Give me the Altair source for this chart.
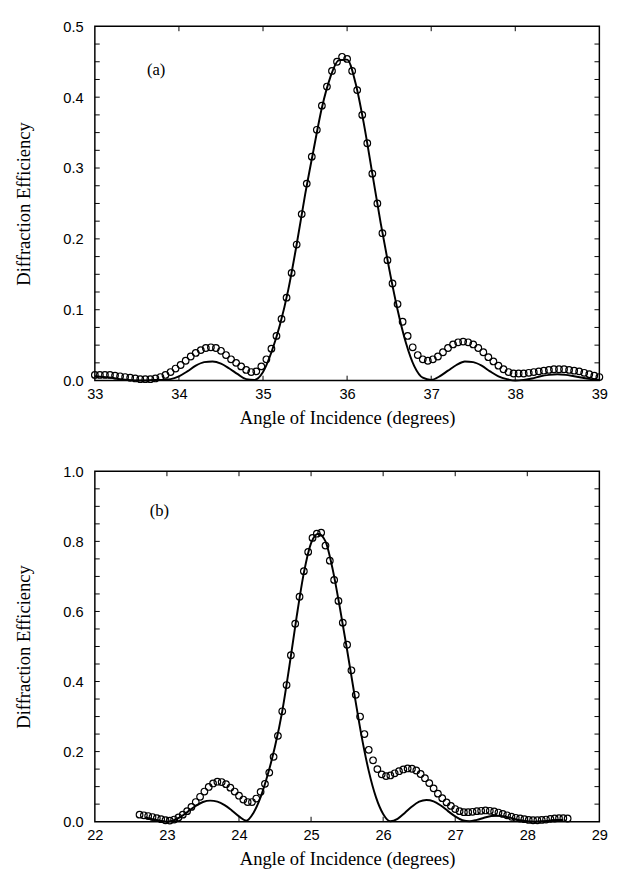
import altair as alt
import pandas as pd

TFONT = "Liberation Serif"
LFONT = "Liberation Sans"

# ---------------- panel (a) ----------------
a_pts_x = [33.00, 33.06, 33.12, 33.18, 33.24, 33.30, 33.36, 33.42, 33.48, 33.54,
           33.60, 33.66, 33.72, 33.78, 33.84, 33.90, 33.96, 34.02, 34.08, 34.14,
           34.20, 34.26, 34.32, 34.38, 34.44, 34.50, 34.56, 34.62, 34.68, 34.74,
           34.80, 34.86, 34.92, 34.98, 35.04, 35.10, 35.16, 35.22, 35.28, 35.34,
           35.40, 35.46, 35.52, 35.58, 35.64, 35.70, 35.76, 35.82, 35.88, 35.94,
           36.00, 36.06, 36.12, 36.18, 36.24, 36.30, 36.36, 36.42, 36.48, 36.54,
           36.60, 36.66, 36.72, 36.78, 36.84, 36.90, 36.96, 37.02, 37.08, 37.14,
           37.20, 37.26, 37.32, 37.38, 37.44, 37.50, 37.56, 37.62, 37.68, 37.74,
           37.80, 37.86, 37.92, 37.98, 38.04, 38.10, 38.16, 38.22, 38.28, 38.34,
           38.40, 38.46, 38.52, 38.58, 38.64, 38.70, 38.76, 38.82, 38.88, 38.94,
           39.00]
a_pts_y = [0.008, 0.008, 0.008, 0.008, 0.007, 0.006, 0.005, 0.004, 0.003, 0.002,
           0.002, 0.002, 0.003, 0.005, 0.008, 0.012, 0.017, 0.022, 0.028, 0.034,
           0.039, 0.043, 0.046, 0.047, 0.046, 0.042, 0.036, 0.030, 0.025, 0.020,
           0.015, 0.012, 0.013, 0.020, 0.030, 0.045, 0.063, 0.087, 0.117, 0.152,
           0.192, 0.235, 0.278, 0.316, 0.354, 0.388, 0.415, 0.437, 0.450, 0.457,
           0.454, 0.437, 0.410, 0.375, 0.335, 0.292, 0.250, 0.208, 0.170, 0.137,
           0.108, 0.083, 0.063, 0.047, 0.036, 0.030, 0.028, 0.030, 0.034, 0.040,
           0.046, 0.051, 0.054, 0.055, 0.054, 0.051, 0.046, 0.040, 0.033, 0.027,
           0.021, 0.016, 0.012, 0.010, 0.010, 0.010, 0.011, 0.012, 0.013, 0.014,
           0.015, 0.016, 0.016, 0.016, 0.015, 0.014, 0.013, 0.011, 0.009, 0.007,
           0.005]
a_line_x = [33.0, 33.1, 33.2, 33.3, 33.4, 33.5, 33.6, 33.7, 33.8, 33.9,
            34.0, 34.1, 34.2, 34.3, 34.4, 34.5, 34.6, 34.7, 34.8, 34.9,
            35.0, 35.1, 35.2, 35.3, 35.4, 35.5, 35.6, 35.7, 35.8, 35.9,
            36.0, 36.1, 36.2, 36.3, 36.4, 36.5, 36.6, 36.7, 36.8, 36.9,
            37.0, 37.1, 37.2, 37.3, 37.4, 37.5, 37.6, 37.7, 37.8, 37.9,
            38.0, 38.1, 38.2, 38.3, 38.4, 38.5, 38.6, 38.7, 38.8, 38.9, 39.0]
a_line_y = [0.006, 0.005, 0.004, 0.002, 0.001, 0.000, 0.000, 0.001, 0.001, 0.002,
            0.006, 0.013, 0.021, 0.026, 0.027, 0.024, 0.017, 0.009, 0.002, 0.001,
            0.012, 0.040, 0.078, 0.128, 0.192, 0.262, 0.325, 0.385, 0.428, 0.452,
            0.453, 0.420, 0.362, 0.292, 0.222, 0.158, 0.100, 0.053, 0.020, 0.004,
            0.001, 0.006, 0.014, 0.022, 0.027, 0.026, 0.021, 0.013, 0.006, 0.002,
            0.000, 0.001, 0.003, 0.006, 0.008, 0.009, 0.008, 0.006, 0.004, 0.002, 0.001]
a_xdom = [33, 39]
a_ydom = [0.0, 0.5]
a_xlabels = [33, 34, 35, 36, 37, 38, 39]
a_ylabels = [0.0, 0.1, 0.2, 0.3, 0.4, 0.5]
a_xticks = [34, 35, 36, 37, 38]
a_yticks = [0.025, 0.05, 0.075, 0.1, 0.125, 0.15, 0.175, 0.2, 0.225, 0.25,
            0.275, 0.3, 0.325, 0.35, 0.375, 0.4, 0.425, 0.45, 0.475]
a_tag = ["(a)"]
a_tag_x = [33.62]
a_tag_y = [0.438]

# ---------------- panel (b) ----------------
b_pts_x = [22.62, 22.68, 22.74, 22.80, 22.86, 22.92, 22.98, 23.04, 23.10, 23.16,
           23.22, 23.28, 23.34, 23.40, 23.46, 23.52, 23.58, 23.64, 23.70, 23.76,
           23.82, 23.88, 23.94, 24.00, 24.06, 24.12, 24.18, 24.24, 24.30, 24.36,
           24.42, 24.48, 24.54, 24.60, 24.66, 24.72, 24.78, 24.84, 24.90, 24.96,
           25.02, 25.08, 25.14, 25.20, 25.26, 25.32, 25.38, 25.44, 25.50, 25.56,
           25.62, 25.68, 25.74, 25.80, 25.86, 25.92, 25.98, 26.04, 26.10, 26.16,
           26.22, 26.28, 26.34, 26.40, 26.46, 26.52, 26.58, 26.64, 26.70, 26.76,
           26.82, 26.88, 26.94, 27.00, 27.06, 27.12, 27.18, 27.24, 27.30, 27.36,
           27.42, 27.48, 27.54, 27.60, 27.66, 27.72, 27.78, 27.84, 27.90, 27.96,
           28.02, 28.08, 28.14, 28.20, 28.26, 28.32, 28.38, 28.44, 28.50, 28.56]
b_pts_y = [0.020, 0.018, 0.016, 0.013, 0.010, 0.007, 0.004, 0.003, 0.006, 0.012,
           0.020, 0.030, 0.042, 0.056, 0.071, 0.086, 0.099, 0.109, 0.114, 0.113,
           0.107, 0.097, 0.086, 0.074, 0.063, 0.056, 0.056, 0.066, 0.085, 0.108,
           0.140, 0.185, 0.245, 0.315, 0.390, 0.475, 0.565, 0.642, 0.715, 0.770,
           0.810, 0.822, 0.825, 0.788, 0.745, 0.690, 0.630, 0.568, 0.505, 0.432,
           0.362, 0.300, 0.250, 0.205, 0.175, 0.150, 0.135, 0.130, 0.132, 0.138,
           0.144, 0.149, 0.152, 0.151, 0.146, 0.136, 0.124, 0.110, 0.095, 0.080,
           0.067, 0.055, 0.045, 0.036, 0.030, 0.027, 0.027, 0.028, 0.030, 0.031,
           0.032, 0.031, 0.029, 0.026, 0.022, 0.018, 0.014, 0.011, 0.009, 0.007,
           0.005, 0.004, 0.004, 0.005, 0.006, 0.008, 0.009, 0.010, 0.010, 0.009]
b_line_x = [22.7, 22.8, 22.9, 23.0, 23.1, 23.2, 23.3, 23.4, 23.5, 23.6,
            23.7, 23.8, 23.9, 24.0, 24.1, 24.2, 24.3, 24.4, 24.5, 24.6,
            24.7, 24.8, 24.9, 25.0, 25.1, 25.2, 25.3, 25.4, 25.5, 25.6,
            25.7, 25.8, 25.9, 26.0, 26.1, 26.2, 26.3, 26.4, 26.5, 26.6,
            26.7, 26.8, 26.9, 27.0, 27.1, 27.2, 27.3, 27.4, 27.5, 27.6,
            27.7, 27.8, 27.9, 28.0, 28.1, 28.2, 28.3, 28.4, 28.5]
b_line_y = [0.012, 0.007, 0.003, 0.000, 0.004, 0.015, 0.030, 0.045, 0.056, 0.060,
            0.057, 0.047, 0.032, 0.015, 0.003, 0.025, 0.070, 0.135, 0.215, 0.315,
            0.445, 0.585, 0.710, 0.795, 0.822, 0.800, 0.720, 0.610, 0.490, 0.365,
            0.245, 0.145, 0.070, 0.022, 0.001, 0.008, 0.025, 0.043, 0.057, 0.062,
            0.058, 0.046, 0.030, 0.015, 0.004, 0.001, 0.005, 0.011, 0.016, 0.017,
            0.014, 0.009, 0.004, 0.001, 0.000, 0.001, 0.003, 0.005, 0.005]
b_xdom = [22, 29]
b_ydom = [0.0, 1.0]
b_xlabels = [22, 23, 24, 25, 26, 27, 28, 29]
b_ylabels = [0.0, 0.2, 0.4, 0.6, 0.8, 1.0]
b_xticks = [23, 24, 25, 26, 27, 28]
b_yticks = [0.05, 0.1, 0.15, 0.2, 0.25, 0.3, 0.35, 0.4, 0.45, 0.5,
            0.55, 0.6, 0.65, 0.7, 0.75, 0.8, 0.85, 0.9, 0.95]
b_tag = ["(b)"]
b_tag_x = [22.76]
b_tag_y = [0.885]

X_TITLE = "Angle of Incidence (degrees)"
Y_TITLE = "Diffraction Efficiency"
TICK = 5


def panel(px, py, lx, ly, xdom, ydom, xlabels, ylabels, xticks, yticks,
          tag, tag_x, tag_y, W, H):
    xs = alt.Scale(domain=xdom, nice=False, zero=False)
    ys = alt.Scale(domain=ydom, nice=False, zero=False)
    common = dict(ticks=False, domain=False, grid=False, labelFlush=False,
                  labelFont=LFONT, labelFontSize=15, labelColor="black",
                  titleFont=TFONT, titleFontSize=19, titleFontWeight="normal",
                  titleColor="black")
    xax = alt.Axis(values=xlabels, format="d", labelPadding=6, titlePadding=8, **common)
    yax = alt.Axis(values=ylabels, format=".1f", labelPadding=12, titlePadding=30, **common)

    def X(f):
        return alt.X(f"{f}:Q", scale=xs, axis=xax, title=X_TITLE)

    def Y(f):
        return alt.Y(f"{f}:Q", scale=ys, axis=yax, title=Y_TITLE)

    line_df = pd.DataFrame({"x": lx, "y": ly})
    pts_df = pd.DataFrame({"x": px, "y": py})
    xt_df = pd.DataFrame({"xt": xticks})
    yt_df = pd.DataFrame({"yt": yticks})
    tag_df = pd.DataFrame({"tx": tag_x, "ty": tag_y, "t": tag})

    line = alt.Chart(line_df).mark_line(color="black", strokeWidth=2,
                                        interpolate="monotone").encode(x=X("x"), y=Y("y"))
    pts = alt.Chart(pts_df).mark_point(shape="circle", filled=False, color="black",
                                       size=46, strokeWidth=1.2, opacity=1).encode(x=X("x"), y=Y("y"))
    yl = alt.Chart(yt_df).mark_rule(color="black", strokeWidth=1).encode(
        y=Y("yt"), x=alt.value(0), x2=alt.value(TICK))
    yr = alt.Chart(yt_df).mark_rule(color="black", strokeWidth=1).encode(
        y=Y("yt"), x=alt.value(W - TICK), x2=alt.value(W))
    xb = alt.Chart(xt_df).mark_rule(color="black", strokeWidth=1).encode(
        x=X("xt"), y=alt.value(H), y2=alt.value(H - TICK))
    xtop = alt.Chart(xt_df).mark_rule(color="black", strokeWidth=1).encode(
        x=X("xt"), y=alt.value(0), y2=alt.value(TICK))
    txt = alt.Chart(tag_df).mark_text(font=TFONT, fontSize=17, align="left",
                                      color="black").encode(x=X("tx"), y=Y("ty"), text="t:N")
    return alt.layer(line, pts, yl, yr, xb, xtop, txt).properties(width=W, height=H)


top = panel(a_pts_x, a_pts_y, a_line_x, a_line_y, a_xdom, a_ydom, a_xlabels, a_ylabels,
            a_xticks, a_yticks, a_tag, a_tag_x, a_tag_y, 517, 363)
bottom = panel(b_pts_x, b_pts_y, b_line_x, b_line_y, b_xdom, b_ydom, b_xlabels, b_ylabels,
               b_xticks, b_yticks, b_tag, b_tag_x, b_tag_y, 517, 359)

chart = alt.vconcat(top, bottom, spacing=36).properties(
    padding={"left": 6, "top": 0, "right": 5, "bottom": 0},
    background="white"
).configure_view(
    stroke="black", strokeWidth=1.5
)

chart.save("out.html", embed_options={"renderer": "svg", "actions": False})
